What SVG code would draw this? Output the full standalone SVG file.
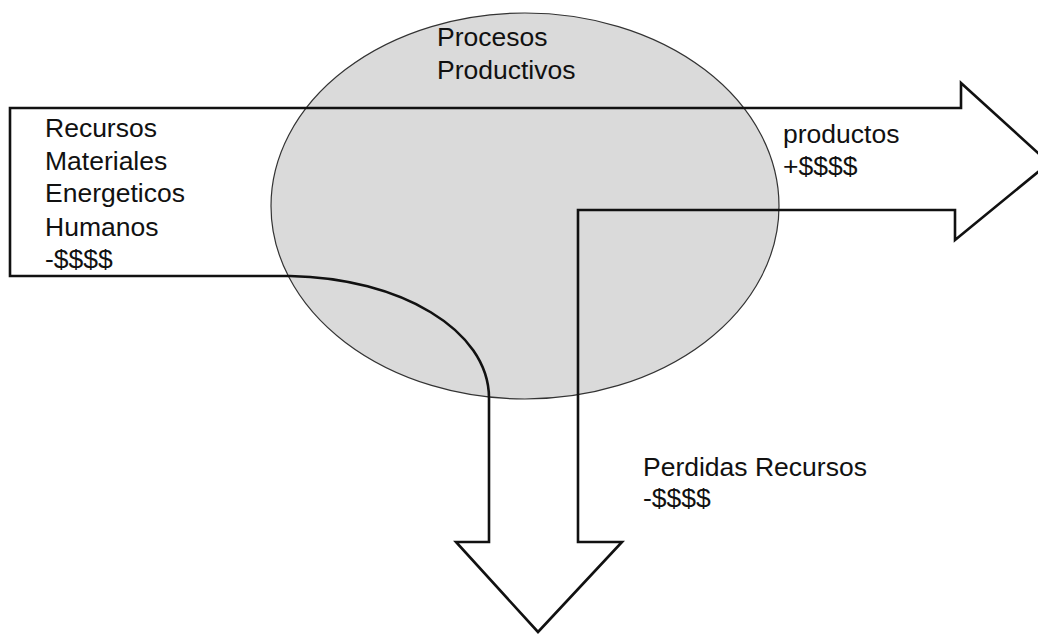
<svg xmlns="http://www.w3.org/2000/svg" width="1038" height="635" viewBox="0 0 1038 635">
  <style>
    .lbl { font-family: "Liberation Sans", Arial, sans-serif; font-size: 26.5px; fill: #111; }
    .flow { fill: none; stroke: #111; stroke-width: 2.6; stroke-linejoin: miter; }
  </style>
  <rect width="1038" height="635" fill="#fff"/>

  <!-- process -->
  <g id="procesos">
    <ellipse cx="525" cy="206" rx="254" ry="193" fill="#dadada" stroke="#333" stroke-width="1.2"/>
    <text class="lbl" x="437" y="46">Procesos</text>
    <text class="lbl" x="437" y="79">Productivos</text>
  </g>

  <!-- material flow outline: inputs, products and losses -->
  <g id="connectors">
    <path class="flow" d="M10 108 H961 V83 L1049 163 L955 240 V210 H578 V542 H622 L538 632 L456 542 H489 V398 C489 330 400 278 290 276 H10 Z"/>
  </g>

  <g id="recursos">
    <text class="lbl" x="45" y="137">Recursos</text>
    <text class="lbl" x="45" y="170">Materiales</text>
    <text class="lbl" x="45" y="202">Energeticos</text>
    <text class="lbl" x="45" y="236">Humanos</text>
    <text class="lbl" x="45" y="268">-$$$$</text>
  </g>

  <g id="productos">
    <text class="lbl" x="783" y="143">productos</text>
    <text class="lbl" x="783" y="175">+$$$$</text>
  </g>

  <g id="perdidas">
    <text class="lbl" x="643" y="476">Perdidas Recursos</text>
    <text class="lbl" x="643" y="507">-$$$$</text>
  </g>
</svg>
